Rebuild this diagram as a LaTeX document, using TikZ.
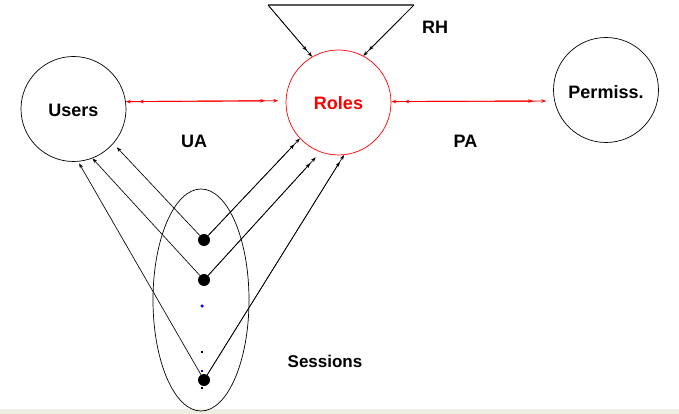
\documentclass[tikz,border=0pt]{standalone}
\usepackage{fontspec}
\setmainfont{Liberation Sans}
\usetikzlibrary{arrows.meta,shapes.geometric}
\definecolor{band}{RGB}{240,238,226}
\begin{document}
\begin{tikzpicture}[x=1pt,y=-1pt,
  tipA/.tip={Stealth[length=5pt,width=3.6pt]},
  circ/.style={draw, circle, minimum size=105pt, inner sep=0pt, line width=0.7pt},
  lbl/.style={font=\fontsize{18}{20}\selectfont\bfseries},
  bigdot/.style={circle, fill=black, minimum size=12pt, inner sep=0pt},
  tinydot/.style={fill=#1, minimum size=2pt, inner sep=0pt},
  conn/.style={line width=0.65pt},
  single/.style={conn, -{tipA}, shorten >=#1},
  single/.default=0pt,
  dbl/.style={conn, -{tipA}, shorten >=#1, postaction={draw, -{tipA}, shorten >=#1+8pt}},
  dbl/.default=0pt,
  reddbl/.style={red, line width=0.9pt, {tipA}-{tipA}, shorten >=#1,
    postaction={draw, {tipA}-{tipA}, shorten <=13pt, shorten >=#1+13pt}},
  reddbl/.default=0pt
]
\useasboundingbox (0,0) rectangle (679,414);
\fill[band] (0,409) rectangle (679,414);

% main circles
\node[circ] (users) at (73.5,109) {};
\node[lbl] (userstxt) at (73.5,110) {Users};
\node[circ, draw=red] (roles) at (338.5,102.5) {};
\node[lbl, text=red] (rolestxt) at (338.5,103) {Roles};
\node[circ] (perm) at (606,90) {};
\node[lbl] (permtxt) at (606,92) {Permiss.};

% labels
\node[lbl] (ua) at (194,141) {UA};
\node[lbl] (pa) at (465.5,141.5) {PA};
\node[lbl] (rh) at (435,27.5) {RH};
\node[font=\fontsize{17}{19}\selectfont\bfseries] (sesstxt) at (325,361) {Sessions};

% sessions ellipse
\node[draw, ellipse, minimum width=96pt, minimum height=222pt, inner sep=0pt, line width=0.7pt] (sess) at (201,300) {};

% session dots
\node[bigdot] (d1) at (204,240) {};
\node[bigdot] (d2) at (204,280) {};
\node[bigdot] (d3) at (204,380) {};
\node[circle, fill=blue, minimum size=3.5pt, inner sep=0pt] (b1) at (202,306) {};
\node[tinydot=black] (t1) at (202,352) {};
\node[tinydot=blue] (t2) at (202,371) {};
\node[tinydot=black] (t3) at (202,388) {};

% role hierarchy triangle
\coordinate (tl) at (268,5);
\coordinate (tr) at (414,5);
\draw[gray!70!black, line width=1.3pt] (tl) -- (tr);
\draw[dbl] (tl) -- (roles.120);
\draw[dbl] (tr) -- (roles.62);

% UA / PA red arrows
\draw[reddbl=7.5pt] (users.8.8) -- (roles.178.3);
\draw[reddbl=8pt] (roles.1.7) -- (perm.192);

% session links
\draw[single=5pt] (d1) -- (users.-41);
\draw[single] (d2) -- (users.-69);
\draw[single=2pt] (d3) -- (users.-85);
\draw[dbl] (d1) -- (roles.-137);
\draw[dbl=7pt] (d2) -- (roles.-110);
\draw[dbl] (d3) -- (roles.-84);
\end{tikzpicture}
\end{document}
